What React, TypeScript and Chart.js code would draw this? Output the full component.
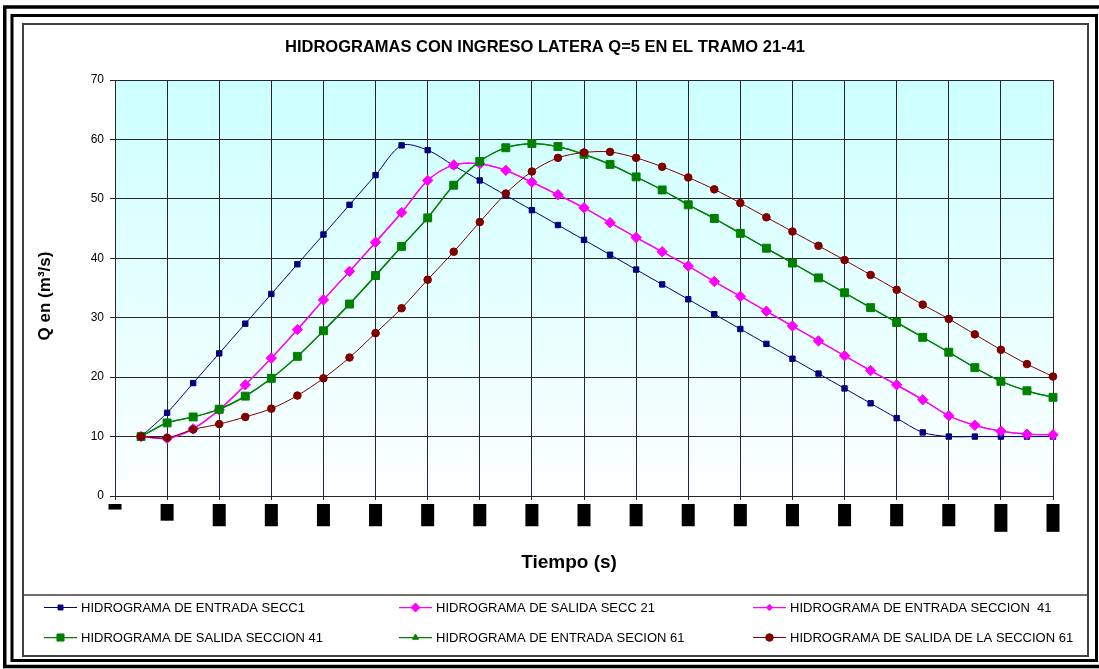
import { useEffect, useRef } from 'react';
import { Chart, registerables } from 'chart.js';
import { drawPoint } from 'chart.js/helpers';

Chart.register(...registerables);

// Time axis (s), one entry per computation step
const tiempoLabels = [
  '0', '300', '600', '900', '1200', '1500', '1800', '2100', '2400', '2700',
  '3000', '3300', '3600', '3900', '4200', '4500', '4800', '5100', '5400', '5700',
  '6000', '6300', '6600', '6900', '7200', '7500', '7800', '8100', '8400', '8700',
  '9000', '9300', '9600', '9900', '10200', '10500', '10800',
];

// Discharge Q (m³/s) for each section
const entradaSecc1 = [
  null, 10, 14, 19, 24, 29, 34, 39, 44, 49, 54, 59, 58.2, 55.6, 53.1, 50.6, 48.1, 45.6, 43.1,
  40.6, 38.1, 35.6, 33.1, 30.6, 28.1, 25.6, 23.1, 20.6, 18.1, 15.6, 13.1, 10.7, 10, 10, 10, 10, 10,
];
const salidaSecc21 = [
  null, 10, 9.7, 11.3, 14.5, 18.7, 23.2, 28, 33, 37.8, 42.7, 47.7, 53.1, 55.7, 55.9, 54.8, 52.8, 50.7,
  48.5, 46.0, 43.5, 41.1, 38.7, 36.1, 33.6, 31.1, 28.6, 26.1, 23.6, 21.1, 18.7, 16.2, 13.5, 11.9, 10.9,
  10.4, 10.3,
];
const entradaSecc41 = [
  null, 10, 9.7, 11.3, 14.5, 18.7, 23.2, 28, 33, 37.8, 42.7, 47.7, 53.1, 55.7, 55.9, 54.8, 52.8, 50.7,
  48.5, 46.0, 43.5, 41.1, 38.7, 36.1, 33.6, 31.1, 28.6, 26.1, 23.6, 21.1, 18.7, 16.2, 13.5, 11.9, 10.9,
  10.4, 10.3,
];
const salidaSecc41 = [
  null, 10, 12.3, 13.3, 14.6, 16.8, 19.8, 23.5, 27.8, 32.3, 37.1, 42, 46.8, 52.3, 56.3, 58.6, 59.3, 58.8,
  57.5, 55.8, 53.7, 51.5, 49.0, 46.7, 44.2, 41.7, 39.2, 36.7, 34.2, 31.7, 29.2, 26.7, 24.2, 21.6, 19.3,
  17.7, 16.6,
];
const entradaSecc61 = [
  null, 10, 12.3, 13.3, 14.6, 16.8, 19.8, 23.5, 27.8, 32.3, 37.1, 42, 46.8, 52.3, 56.3, 58.6, 59.3, 58.8,
  57.5, 55.8, 53.7, 51.5, 49.0, 46.7, 44.2, 41.7, 39.2, 36.7, 34.2, 31.7, 29.2, 26.7, 24.2, 21.6, 19.3,
  17.7, 16.6,
];
const salidaSecc61 = [
  null, 10, 9.8, 11.2, 12.1, 13.3, 14.7, 16.9, 19.8, 23.3, 27.4, 31.6, 36.4, 41.1, 46.1, 50.9, 54.6, 56.9,
  57.8, 57.9, 56.9, 55.4, 53.6, 51.6, 49.3, 46.9, 44.5, 42.1, 39.7, 37.2, 34.7, 32.2, 29.8, 27.2, 24.6,
  22.2, 20.1,
];

const seriesNames = [
  'HIDROGRAMA DE ENTRADA SECC1',
  'HIDROGRAMA DE SALIDA SECC 21',
  'HIDROGRAMA DE ENTRADA SECCION  41',
  'HIDROGRAMA DE SALIDA SECCION 41',
  'HIDROGRAMA DE ENTRADA SECION 61',
  'HIDROGRAMA DE SALIDA DE LA SECCION 61',
];

const chartTitle = 'HIDROGRAMAS CON INGRESO LATERA Q=5 EN EL TRAMO 21-41';
const yTitle = 'Q en (m³/s)';
const xTitle = 'Tiempo (s)';

const FONT = "'Liberation Sans', Arial, sans-serif";
const GRID = '#262626';
const NAVY = '#000080';
const MAGENTA = '#FF00FF';
const GREEN = '#008000';
const DARKRED = '#800000';

const seriesStyles = [
  { color: NAVY, pointStyle: 'rect', radius: 3.8, legendRadius: 3.5, width: 1 },
  { color: MAGENTA, pointStyle: 'rectRot', radius: 5.2, legendRadius: 4.5, width: 1.25 },
  { color: MAGENTA, pointStyle: 'rectRot', radius: 3.2, legendRadius: 3.2, width: 1.25 },
  { color: GREEN, pointStyle: 'rect', radius: 5.6, legendRadius: 5, width: 1.25 },
  { color: GREEN, pointStyle: 'triangle', radius: 3.5, legendRadius: 3.5, width: 1.25 },
  { color: DARKRED, pointStyle: 'circle', radius: 3.8, legendRadius: 3.8, width: 1 },
];

const seriesData = [entradaSecc1, salidaSecc21, entradaSecc41, salidaSecc41, entradaSecc61, salidaSecc61];

// Outer frame, plot background gradient
const framePlugin = {
  id: 'frame',
  beforeDraw(chart: any) {
    const { ctx, chartArea } = chart;
    ctx.save();
    ctx.strokeStyle = '#000';
    ctx.lineWidth = 3.5;
    ctx.strokeRect(4.75, 7, 1110, 659.5);
    ctx.lineWidth = 3;
    ctx.strokeRect(12, 15.5, 1084.5, 645);
    ctx.strokeStyle = '#404040';
    ctx.lineWidth = 2;
    ctx.strokeRect(23, 24, 1065, 632);
    const g = ctx.createLinearGradient(0, chartArea.top, 0, chartArea.bottom);
    g.addColorStop(0, '#CCFFFF');
    g.addColorStop(1, '#FCFFFF');
    ctx.fillStyle = g;
    ctx.fillRect(chartArea.left, chartArea.top, chartArea.right - chartArea.left, chartArea.bottom - chartArea.top);
    ctx.restore();
  },
};

// Titles and the boxed legend
const textPlugin = {
  id: 'texts',
  afterDraw(chart: any) {
    const { ctx } = chart;
    ctx.save();
    ctx.fillStyle = '#000';
    ctx.textAlign = 'center';
    ctx.textBaseline = 'middle';
    ctx.font = `bold 16.5px ${FONT}`;
    ctx.fillText(chartTitle, 545, 47);
    ctx.font = `bold 19px ${FONT}`;
    ctx.fillText(xTitle, 569, 563);
    ctx.save();
    ctx.translate(45, 296);
    ctx.rotate(-Math.PI / 2);
    ctx.font = `bold 17px ${FONT}`;
    ctx.fillText(yTitle, 0, 0);
    ctx.restore();

    // legend box separator
    ctx.strokeStyle = '#404040';
    ctx.lineWidth = 1.5;
    ctx.beginPath();
    ctx.moveTo(23, 595);
    ctx.lineTo(1088, 595);
    ctx.stroke();

    const colX = [44, 399, 753];
    const rowY = [607, 637];
    ctx.textAlign = 'left';
    ctx.font = `13px ${FONT}`;
    chart.data.datasets.forEach((ds: any, i: number) => {
      const st = seriesStyles[i];
      const x0 = colX[i % 3];
      const y = rowY[Math.floor(i / 3)];
      ctx.strokeStyle = st.color;
      ctx.fillStyle = st.color;
      ctx.lineWidth = st.width;
      ctx.beginPath();
      ctx.moveTo(x0, y + 0.5);
      ctx.lineTo(x0 + 33, y + 0.5);
      ctx.stroke();
      ctx.lineWidth = 1;
      drawPoint(ctx, { pointStyle: st.pointStyle, radius: st.legendRadius, rotation: 0, borderWidth: 1 } as any, x0 + 16.5, y + 0.5);
      ctx.fillStyle = '#000';
      ctx.fillText(ds.label, x0 + 37, y + 1);
    });
    ctx.restore();
  },
};

export default function App() {
  const ref = useRef<HTMLCanvasElement>(null);

  useEffect(() => {
    const canvas = ref.current;
    if (!canvas) return;
    Chart.defaults.font.family = FONT;
    const chart = new Chart(canvas, {
      type: 'line',
      data: {
        labels: tiempoLabels,
        datasets: seriesData.map((d, i) => ({
          label: seriesNames[i],
          data: d,
          borderColor: seriesStyles[i].color,
          backgroundColor: seriesStyles[i].color,
          pointBorderColor: seriesStyles[i].color,
          pointBackgroundColor: seriesStyles[i].color,
          pointStyle: seriesStyles[i].pointStyle as any,
          pointRadius: seriesStyles[i].radius,
          pointBorderWidth: 1,
          borderWidth: seriesStyles[i].width,
          tension: 0.3,
          fill: false,
          order: 5 - i,
        })),
      },
      options: {
        animation: false,
        responsive: false,
        devicePixelRatio: 1,
        layout: { padding: { left: 0, top: 80, right: 46, bottom: 113 } },
        plugins: {
          legend: { display: false },
          title: { display: false },
          tooltip: { enabled: false },
        },
        scales: {
          x: {
            type: 'category',
            offset: false,
            grid: { color: GRID, tickColor: GRID, tickLength: 4, lineWidth: 1 },
            border: { color: GRID, width: 1 },
            ticks: {
              autoSkip: false,
              minRotation: 90,
              maxRotation: 90,
              padding: 4,
              color: '#000',
              font: { family: FONT, size: 10, lineHeight: 1.3 },
              showLabelBackdrop: true,
              backdropColor: '#000',
              backdropPadding: 0,
              labelOffset: -6.5,
              // one labelled tick (and grid line) every second step
              callback: (_v: any, i: number) => (i % 2 === 0 ? tiempoLabels[i] : null),
            },
            afterFit: (s: any) => {
              s.height = 60;
            },
          },
          y: {
            min: 0,
            max: 70,
            ticks: { stepSize: 10, padding: 6, color: '#000', font: { family: FONT, size: 12 } },
            grid: { color: GRID, tickLength: 5, lineWidth: 1 },
            border: { color: GRID, width: 1 },
            afterFit: (s: any) => {
              s.width = 115;
            },
          },
        },
      },
      plugins: [framePlugin, textPlugin],
    } as any);
    return () => chart.destroy();
  }, []);

  return (
    <div style={{ position: 'absolute', left: 0, top: 0, width: 1099, height: 669, background: '#fff' }}>
      <canvas ref={ref} width={1099} height={669} style={{ display: 'block', width: 1099, height: 669 }} />
    </div>
  );
}
